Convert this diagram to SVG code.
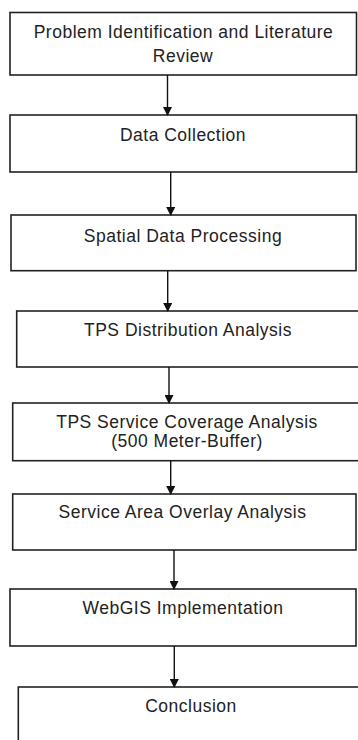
<svg xmlns="http://www.w3.org/2000/svg" width="358" height="740" viewBox="0 0 358 740">
<style>
.box{fill:#fff;stroke:#222;stroke-width:1.6}
.lbl{font-family:"Liberation Sans",Arial,sans-serif;font-size:17.5px;letter-spacing:0.5px;fill:#222;text-anchor:middle}
.con{stroke:#111;stroke-width:1.4;fill:none;marker-end:url(#ah)}
</style>
<defs>
<marker id="ah" markerWidth="9" markerHeight="9" refX="8" refY="4.5" orient="auto" markerUnits="userSpaceOnUse">
<path d="M0,0 L9,4.5 L0,9 Z" fill="#111"/>
</marker>
</defs>
<rect width="358" height="740" fill="#fff"/>
<g id="n1"><rect class="box" x="10" y="12.5" width="346.5" height="62.5"/><text class="lbl" x="183.5" y="37.5">Problem Identification and Literature</text><text class="lbl" x="183" y="62">Review</text></g>
<g id="n2"><rect class="box" x="10" y="115" width="346.5" height="57"/><text class="lbl" x="183" y="140.7">Data Collection</text></g>
<g id="n3"><rect class="box" x="11" y="215" width="345" height="55.7"/><text class="lbl" x="183" y="241.5">Spatial Data Processing</text></g>
<g id="n4"><rect class="box" x="16.7" y="311" width="350" height="56"/><text class="lbl" x="188" y="336">TPS Distribution Analysis</text></g>
<g id="n5"><rect class="box" x="12.7" y="403" width="350" height="57.7"/><text class="lbl" x="187" y="428">TPS Service Coverage Analysis</text><text class="lbl" x="187" y="447.3">(500 Meter-Buffer)</text></g>
<g id="n6"><rect class="box" x="12.7" y="494" width="343.3" height="56"/><text class="lbl" x="182.5" y="518">Service Area Overlay Analysis</text></g>
<g id="n7"><rect class="box" x="10" y="589" width="346" height="57"/><text class="lbl" x="183" y="614">WebGIS Implementation</text></g>
<g id="n8"><rect class="box" x="18.3" y="687" width="350" height="60"/><text class="lbl" x="191" y="711.7">Conclusion</text></g>
<g id="connectors">
<line class="con" x1="167.5" y1="75" x2="167.5" y2="115"/>
<line class="con" x1="170.7" y1="172" x2="170.7" y2="215"/>
<line class="con" x1="167.7" y1="270.7" x2="167.7" y2="311"/>
<line class="con" x1="169" y1="367" x2="169" y2="403"/>
<line class="con" x1="170.7" y1="460.7" x2="170.7" y2="494"/>
<line class="con" x1="174" y1="550" x2="174" y2="589"/>
<line class="con" x1="174.3" y1="646" x2="174.3" y2="687"/>
</g>
</svg>
